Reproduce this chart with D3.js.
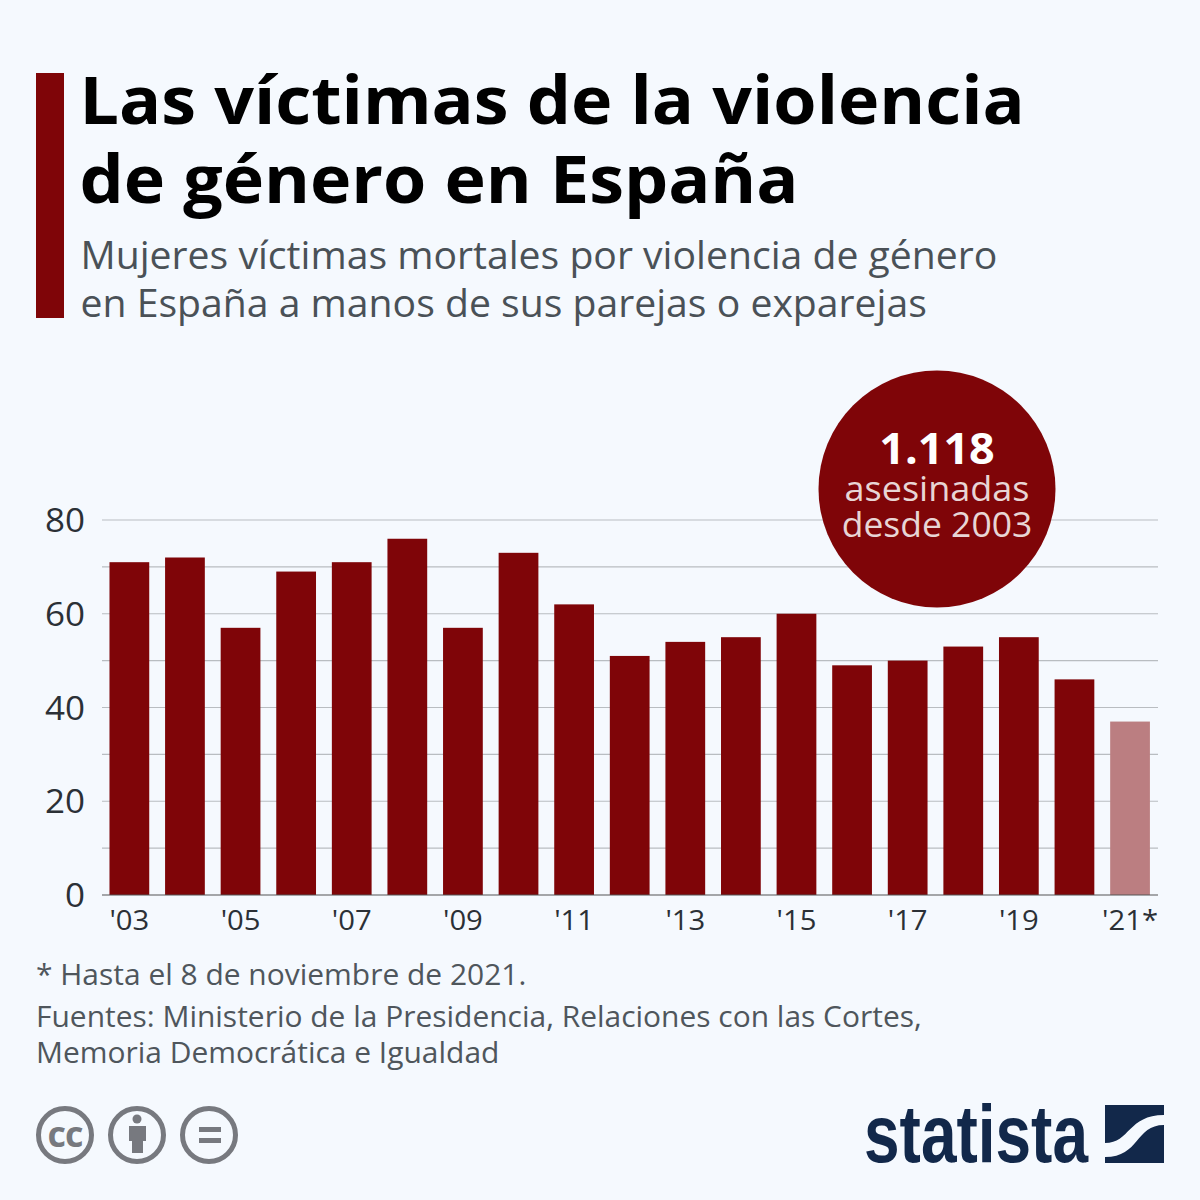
<!DOCTYPE html>
<html><head><meta charset="utf-8">
<script src="https://cdn.jsdelivr.net/npm/d3@7"></script>
<style>html,body{margin:0;padding:0;background:#f5f9fe}svg{display:block}text{font-family:"Open Sans",sans-serif}</style>
</head><body><svg id="c" width="1200" height="1200"></svg>
<script>
const years=["'03","'04","'05","'06","'07","'08","'09","'10","'11","'12","'13","'14","'15","'16","'17","'18","'19","'20","'21*"];
const victims=[71,72,57,69,71,76,57,73,62,51,54,55,60,49,50,53,55,46,37];
const yTicks=[0,20,40,60,80];
const gridTicks=[10,20,30,40,50,60,70,80];
const titleLines=["Las víctimas de la violencia","de género en España"];
const subtitleLines=["Mujeres víctimas mortales por violencia de género","en España a manos de sus parejas o exparejas"];
const noteLines=["* Hasta el 8 de noviembre de 2021."];
const sourceLines=["Fuentes: Ministerio de la Presidencia, Relaciones con las Cortes,","Memoria Democrática e Igualdad"];
const svg=d3.select("#c");
const red="#7f0508", sx=1.044;
const at=(px,py)=>`translate(${px},${py}) scale(${sx},1)`;
svg.append("rect").attr("width",1200).attr("height",1200).attr("fill","#f5f9fe");
svg.append("rect").attr("x",36).attr("y",73).attr("width",28).attr("height",245).attr("fill",red);
svg.selectAll(".t").data(titleLines).join("text").attr("transform",(d,i)=>at(79.5,124+i*79)).text(d=>d)
 .attr("font-size",67).attr("font-weight",700).attr("fill","#000");
svg.selectAll(".s").data(subtitleLines).join("text").attr("transform",(d,i)=>at(80.5,269+i*48)).text(d=>d)
 .attr("font-size",37.5).attr("fill","#4a5157");
const x=d3.scaleBand().domain(years).range([101.7,1157.7]).paddingInner(0.285).paddingOuter(0.14);
const y=d3.scaleLinear().domain([0,80]).range([895,520]);
svg.append("g").selectAll("line").data(gridTicks).join("line")
 .attr("x1",102).attr("x2",1158).attr("y1",d=>y(d)).attr("y2",d=>y(d)).attr("stroke","#b9bdc1").attr("stroke-width",1.2);
svg.append("g").selectAll("rect").data(victims).join("rect")
 .attr("x",(d,i)=>x(years[i])).attr("width",x.bandwidth()).attr("y",d=>y(d)).attr("height",d=>y(0)-y(d))
 .attr("fill",(d,i)=>i===victims.length-1?"#bb7e81":red);
svg.append("line").attr("x1",102).attr("x2",1158).attr("y1",y(0)).attr("y2",y(0)).attr("stroke","#555").attr("stroke-width",1.2);
svg.append("g").selectAll("text").data(yTicks).join("text").attr("transform",d=>at(85,y(d)+12)).attr("text-anchor","end")
 .attr("font-size",33.5).attr("fill","#2b3036").text(d=>d);
svg.append("g").selectAll("text").data(years.filter((d,i)=>i%2===0)).join("text")
 .attr("transform",d=>at(x(d)+x.bandwidth()/2,930)).attr("text-anchor","middle").attr("font-size",28).attr("fill","#2b3036").text(d=>d);
svg.append("circle").attr("cx",937).attr("cy",489).attr("r",118.5).attr("fill",red);
svg.append("text").attr("transform",at(937,464)).attr("text-anchor","middle").attr("font-size",43).attr("font-weight",700).attr("fill","#fff").text("1.118");
svg.append("text").attr("transform",at(937,501)).attr("text-anchor","middle").attr("font-size",34.5).attr("fill","#e8d5d5").text("asesinadas");
svg.append("text").attr("transform",at(937,537)).attr("text-anchor","middle").attr("font-size",34).attr("fill","#e8d5d5").text("desde 2003");
svg.selectAll(".n").data(noteLines).join("text").attr("transform",at(36,985)).attr("font-size",28.7).attr("fill","#4f565c").text(d=>d);
svg.selectAll(".f").data(sourceLines).join("text").attr("transform",(d,i)=>at(36,1027+i*36)).attr("font-size",28.7).attr("fill","#4f565c").text(d=>d);
// licence icons
const icons=[65,137,209];
const ig=svg.append("g"), ic="#77797f";
icons.forEach(cx=>ig.append("circle").attr("cx",cx).attr("cy",1135).attr("r",26.5).attr("fill","#f5f9fe").attr("stroke",ic).attr("stroke-width",5));
ig.append("text").attr("x",65).attr("y",1147).attr("text-anchor","middle").attr("font-size",36).attr("font-weight",700).attr("fill",ic).attr("letter-spacing",-1).text("cc");
ig.append("circle").attr("cx",137).attr("cy",1119).attr("r",4.5).attr("fill",ic);
ig.append("rect").attr("x",129).attr("y",1126).attr("width",17).attr("height",15).attr("fill",ic);
ig.append("rect").attr("x",132).attr("y",1141).attr("width",11).attr("height",12).attr("fill",ic);
ig.append("rect").attr("x",199).attr("y",1127).attr("width",22).attr("height",5).attr("fill",ic);
ig.append("rect").attr("x",199).attr("y",1138).attr("width",22).attr("height",5).attr("fill",ic);
// Statista wordmark
svg.append("text").attr("x",864).attr("y",1162).attr("font-size",81).attr("font-weight",700).attr("fill","#12284a")
 .attr("textLength",224).attr("lengthAdjust","spacingAndGlyphs").style("font-family","'Liberation Sans'").text("statista");
svg.append("rect").attr("x",1105).attr("y",1105).attr("width",59).attr("height",58).attr("fill","#12284a");
svg.append("path").attr("d","M1105 1143 C1130 1143 1128 1115 1164 1115 L1164 1125 C1135 1125 1140 1157 1105 1157 Z").attr("fill","#f5f9fe");
</script></body></html>
